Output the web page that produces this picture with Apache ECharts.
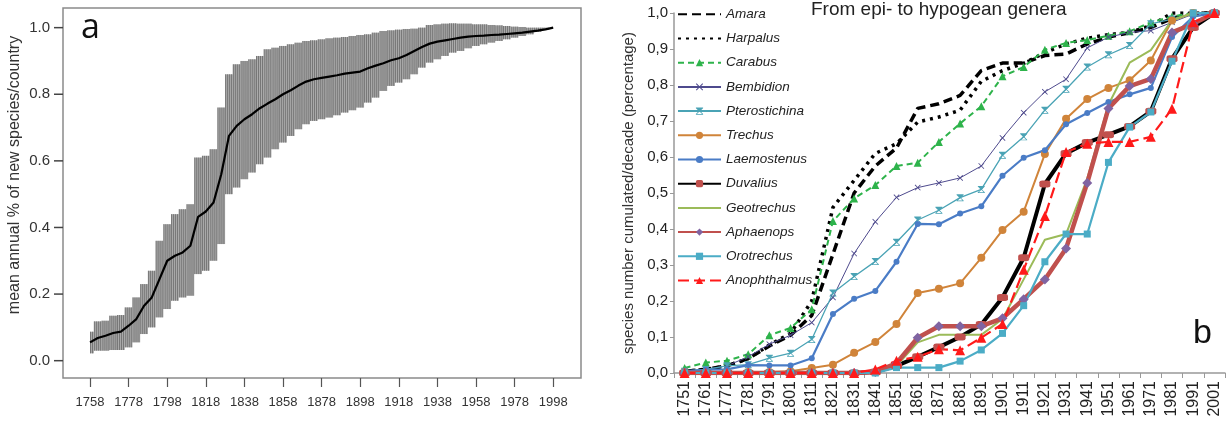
<!DOCTYPE html>
<html>
<head>
<meta charset="utf-8">
<script src="https://cdn.jsdelivr.net/npm/echarts@6/dist/echarts.min.js"></script>
<style>html,body{margin:0;padding:0;background:#fff}#c{width:1229px;height:422px}</style>
</head>
<body>
<div id="c"></div>
<script>
// ---------- Panel a data ----------
const yearsA = [1758,1762,1766,1770,1774,1778,1782,1786,1790,1794,1798,1802,1806,1810,1814,1818,1822,1826,1830,1834,1838,1842,1846,1850,1854,1858,1862,1866,1870,1874,1878,1882,1886,1890,1894,1898,1902,1906,1910,1914,1918,1922,1926,1930,1934,1938,1942,1946,1950,1954,1958,1962,1966,1970,1974,1978,1982,1986,1990,1994,1998];
const meanA = [0.055,0.068,0.075,0.083,0.087,0.105,0.125,0.165,0.19,0.245,0.30,0.315,0.325,0.345,0.432,0.448,0.475,0.56,0.675,0.705,0.725,0.74,0.758,0.772,0.785,0.80,0.812,0.826,0.838,0.845,0.849,0.853,0.857,0.862,0.865,0.868,0.878,0.886,0.893,0.902,0.908,0.918,0.93,0.942,0.952,0.958,0.962,0.966,0.97,0.973,0.975,0.976,0.978,0.979,0.981,0.983,0.985,0.988,0.991,0.995,1.0];
const upperA = [0.087,0.118,0.12,0.135,0.137,0.16,0.19,0.23,0.27,0.36,0.41,0.44,0.455,0.47,0.61,0.615,0.635,0.76,0.86,0.89,0.90,0.905,0.915,0.935,0.94,0.945,0.95,0.955,0.96,0.962,0.965,0.968,0.97,0.972,0.975,0.978,0.98,0.985,0.99,0.992,0.994,0.996,0.997,1.0,1.008,1.01,1.012,1.013,1.012,1.012,1.01,1.01,1.008,1.007,1.005,1.003,1.002,1.0,1.0,1.0,1.0];
const lowerA = [0.022,0.03,0.03,0.032,0.032,0.04,0.055,0.08,0.10,0.13,0.155,0.18,0.19,0.195,0.26,0.27,0.30,0.35,0.50,0.52,0.545,0.565,0.59,0.61,0.635,0.655,0.675,0.695,0.71,0.72,0.725,0.73,0.737,0.745,0.752,0.76,0.775,0.79,0.81,0.825,0.835,0.845,0.86,0.88,0.895,0.905,0.915,0.925,0.93,0.938,0.945,0.95,0.955,0.96,0.965,0.97,0.975,0.98,0.988,0.994,1.0];
const tickYearsA = [1758,1778,1798,1818,1838,1858,1878,1898,1918,1938,1958,1978,1998];
const tickValsA = [0,0.2,0.4,0.6,0.8,1.0];

// ---------- Panel b data ----------
const decades = ['1751','1761','1771','1781','1791','1801','1811','1821','1831','1841','1851','1861','1871','1881','1891','1901','1911','1921','1931','1941','1951','1961','1971','1981','1991','2001'];
const amara        = [0.005,0.01,0.02,0.04,0.075,0.105,0.16,0.33,0.5,0.575,0.625,0.735,0.748,0.771,0.84,0.861,0.861,0.882,0.886,0.914,0.933,0.945,0.96,0.985,1.0,1.0];
const harpalus     = [0.005,0.01,0.02,0.04,0.078,0.11,0.2,0.46,0.535,0.61,0.637,0.697,0.711,0.73,0.81,0.84,0.86,0.89,0.914,0.93,0.94,0.946,0.965,1.0,1.0,1.0];
const carabus      = [0.014,0.029,0.034,0.052,0.105,0.125,0.177,0.422,0.485,0.522,0.575,0.584,0.642,0.693,0.741,0.824,0.85,0.898,0.917,0.925,0.937,0.949,0.974,0.99,1.0,1.0];
const bembidion    = [0.005,0.01,0.02,0.045,0.08,0.105,0.14,0.21,0.332,0.42,0.488,0.515,0.528,0.542,0.575,0.653,0.723,0.781,0.816,0.903,0.933,0.946,0.951,0.974,0.997,1.0];
const pterostichina= [0.005,0.01,0.02,0.023,0.041,0.055,0.093,0.222,0.268,0.31,0.363,0.425,0.452,0.487,0.51,0.605,0.656,0.73,0.788,0.85,0.884,0.91,0.97,0.983,1.0,1.0];
const trechus      = [0.003,0.003,0.003,0.003,0.003,0.005,0.014,0.023,0.056,0.086,0.136,0.222,0.234,0.249,0.32,0.397,0.448,0.608,0.706,0.761,0.792,0.813,0.868,0.979,1.0,1.0];
const laemostenus  = [0.005,0.009,0.01,0.022,0.021,0.021,0.041,0.164,0.206,0.228,0.309,0.414,0.413,0.443,0.463,0.548,0.598,0.619,0.691,0.722,0.753,0.774,0.792,0.933,0.99,1.0];
const duvalius     = [0,0,0,0,0,0,0,0,0,0.003,0.02,0.045,0.072,0.1,0.135,0.21,0.32,0.525,0.61,0.64,0.662,0.685,0.727,0.873,0.96,1.0];
const geotrechus   = [0,0,0,0,0,0,0,0,0,0.003,0.02,0.085,0.106,0.106,0.106,0.15,0.26,0.37,0.386,0.54,0.745,0.862,0.897,0.98,1.0,1.0];
const aphaenops    = [0,0,0,0,0,0,0,0,0,0.003,0.027,0.098,0.13,0.13,0.13,0.152,0.205,0.26,0.346,0.528,0.735,0.797,0.817,0.946,0.97,1.0];
const orotrechus   = [0,0,0,0,0,0,0,0,0,0,0.015,0.015,0.015,0.033,0.064,0.11,0.187,0.309,0.386,0.386,0.585,0.683,0.725,0.866,1.0,1.0];
const anophthalmus = [0,0,0,0,0,0,0,0,0,0.01,0.034,0.045,0.066,0.063,0.098,0.136,0.287,0.436,0.614,0.637,0.642,0.642,0.656,0.734,0.974,1.0];

// ---------- chart ----------
const chart = echarts.init(document.getElementById('c'), null, {renderer:'canvas'});
const FONT = 'Liberation Sans, Arial, sans-serif';
const halfStep = (yearsA[1] - yearsA[0]) / 2;

function renderBand(params, api) {
  const yr = api.value(0), lo = api.value(1), hi = api.value(2);
  const x0 = api.coord([Math.max(yr - halfStep, yearsA[0]), 0])[0];
  const x1 = api.coord([Math.min(yr + halfStep, yearsA[yearsA.length - 1]), 0])[0];
  const yT = api.coord([yr, hi])[1], yB = api.coord([yr, lo])[1];
  const children = [{type:'rect', shape:{x:x0, y:yT, width:x1 - x0, height:yB - yT}, style:{fill:'#acacac'}}];
  for (let x = x0 + 0.5; x < x1; x += 2) {
    children.push({type:'line', shape:{x1:x, y1:yT, x2:x, y2:yB}, style:{stroke:'#5e5e5e', lineWidth:0.7}});
  }
  return {type:'group', children};
}

const xSym = 'path://M0,1L1,0L5,4L9,0L10,1L6,5L10,9L9,10L5,6L1,10L0,9L4,5Z';
const starSym = 'path://M0,0L10,0L10,1L6,5L10,9L10,10L0,10L0,9L4,5L0,1Z M1.5,1L8.5,1L5,4.5Z M1.5,9L8.5,9L5,5.5Z';

function lineSeries(name, data, lineColor, width, opts) {
  return Object.assign({
    name, type:'line', xAxisIndex:1, yAxisIndex:1, data,
    lineStyle:{color:lineColor, width},
    itemStyle:{color:lineColor},
    symbol:'circle', symbolSize:6, showSymbol:true, animation:false, z:3
  }, opts || {});
}
const noMarker = {showSymbol:false, symbol:'circle', symbolSize:1, itemStyle:{color:'rgba(0,0,0,0)', opacity:0}};

const bNames = ['Amara','Harpalus','Carabus','Bembidion','Pterostichina','Trechus','Laemostenus','Duvalius','Geotrechus','Aphaenops','Orotrechus','Anophthalmus'];

const option = {
  animation:false,
  title:[
    {text:'a', left:81, top:11, padding:0, textStyle:{fontSize:34, fontWeight:'normal', color:'#111', fontFamily:'Open Sans, sans-serif'}},
    {text:'From epi- to hypogean genera', left:811, top:0, padding:0, textStyle:{fontSize:19, fontWeight:'normal', color:'#222', fontFamily:FONT}},
    {text:'b', left:1193, top:317, padding:0, textStyle:{fontSize:34, fontWeight:'normal', color:'#111', fontFamily:FONT}}
  ],
  legend:{
    data:bNames, orient:'vertical', left:677, top:7.3, padding:0,
    itemWidth:43, itemHeight:9, itemGap:10.2,
    textStyle:{fontSize:13.5, fontStyle:'italic', color:'#222', fontFamily:FONT},
    selectedMode:false
  },
  grid:[
    // panel a: framed box
    {left:63, top:8, width:518, height:370, show:true, borderColor:'#8a8a8a', borderWidth:1.5, backgroundColor:'transparent'},
    // panel b
    {left:674, top:13, width:551, height:360}
  ],
  xAxis:[
    {gridIndex:0, type:'value', min:1744, max:2012.4,
     axisLine:{show:false, onZero:false}, splitLine:{show:false},
     axisTick:{show:true, length:9, customValues:tickYearsA, lineStyle:{color:'#555', width:1.2}},
     axisLabel:{customValues:tickYearsA, margin:18, fontSize:13, color:'#333', fontFamily:FONT, formatter:v => String(v)}},
    {gridIndex:1, type:'category', data:decades, boundaryGap:true,
     axisLine:{show:true, lineStyle:{color:'#999', width:1.5}},
     axisTick:{show:true, length:5, interval:0, lineStyle:{color:'#999'}},
     axisLabel:{rotate:90, interval:0, margin:8, fontSize:16, color:'#222', fontFamily:FONT}}
  ],
  yAxis:[
    {gridIndex:0, type:'value', min:-0.052, max:1.059,
     axisLine:{show:false, onZero:false}, splitLine:{show:false},
     axisTick:{show:false},
     axisLabel:{customValues:tickValsA, margin:13, fontSize:15, color:'#333', fontFamily:FONT, formatter:v => v.toFixed(1)},
     name:'mean annual % of new species/country', nameLocation:'middle', nameGap:40,
     nameTextStyle:{fontSize:16, color:'#333', fontFamily:FONT, padding:[0,0,0,36]}},
    {gridIndex:1, type:'value', min:0, max:1, interval:0.1,
     axisLine:{show:true, onZero:false, lineStyle:{color:'#999', width:1.5}}, splitLine:{show:false},
     axisTick:{show:true, length:4, lineStyle:{color:'#999'}},
     axisLabel:{margin:6, fontSize:15, color:'#222', fontFamily:FONT, formatter:v => v.toFixed(1).replace('.', ',')},
     name:'species number cumulated/decade (percentage)', nameLocation:'middle', nameGap:38,
     nameTextStyle:{fontSize:15, color:'#333', fontFamily:FONT}}
  ],
  series:[
    {type:'custom', xAxisIndex:0, yAxisIndex:0, renderItem:renderBand,
     data:yearsA.map((y, i) => [y, lowerA[i], upperA[i]]), z:1, silent:true},
    {type:'line', xAxisIndex:0, yAxisIndex:0, data:yearsA.map((y, i) => [y, meanA[i]]),
     symbol:'none', lineStyle:{color:'#000', width:2.2}, z:2, silent:true},
    // y ticks of panel a: short marks just outside the box, placed through the axis scale
    {type:'custom', xAxisIndex:0, yAxisIndex:0, silent:true, clip:false, z:4,
     data:tickValsA.map(v => [1744, v]),
     renderItem:(params, api) => {
       const p = api.coord([api.value(0), api.value(1)]);
       return {type:'line', shape:{x1:p[0] - 9, y1:p[1], x2:p[0], y2:p[1]}, style:{stroke:'#444', lineWidth:1.5}};
     }},

    lineSeries('Amara', amara, '#000', 3.5, Object.assign({lineStyle:{color:'#000', width:3.5, type:[9,5]}}, noMarker)),
    lineSeries('Harpalus', harpalus, '#000', 3.5, Object.assign({lineStyle:{color:'#000', width:3.5, type:[3,5]}}, noMarker)),
    lineSeries('Carabus', carabus, '#2eb34b', 2, {lineStyle:{color:'#2eb34b', width:2, type:[6,4]}, symbol:'triangle', symbolSize:8}),
    lineSeries('Bembidion', bembidion, '#4e4a8d', 1, {symbol:xSym, symbolSize:6}),
    lineSeries('Pterostichina', pterostichina, '#4aa3b5', 1.3, {symbol:starSym, symbolSize:7}),
    lineSeries('Trechus', trechus, '#d0843a', 2, {symbol:'circle', symbolSize:8}),
    lineSeries('Laemostenus', laemostenus, '#4a7cc6', 2.2, {symbol:'circle', symbolSize:6}),
    lineSeries('Duvalius', duvalius, '#000', 4, {itemStyle:{color:'#c0504d'}, symbol:'roundRect', symbolSize:[11,7]}),
    lineSeries('Geotrechus', geotrechus, '#9bbb59', 2, Object.assign({}, noMarker)),
    lineSeries('Aphaenops', aphaenops, '#c0504d', 4.5, {itemStyle:{color:'#8064a2'}, symbol:'diamond', symbolSize:10}),
    lineSeries('Orotrechus', orotrechus, '#4bacc6', 2.2, {symbol:'rect', symbolSize:7}),
    lineSeries('Anophthalmus', anophthalmus, '#ff1a1a', 2.2, {lineStyle:{color:'#ff1a1a', width:2.2, type:[11,5]}, symbol:'triangle', symbolSize:10})
  ]
};
chart.setOption(option);
</script>
</body>
</html>
